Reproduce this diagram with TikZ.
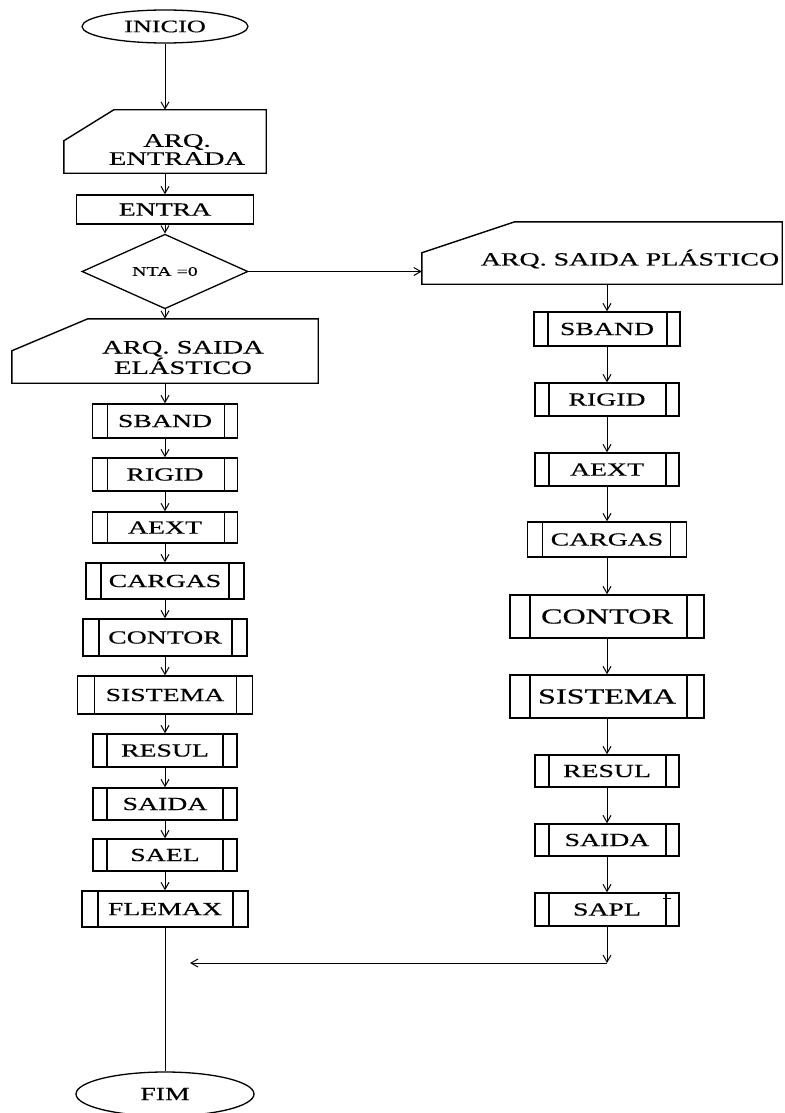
\documentclass[tikz,border=0pt]{standalone}
\usepackage{fontspec}
\setmainfont{Liberation Serif}[FakeStretch=1.5,FakeBold=0.4]
\usetikzlibrary{shapes.geometric,arrows.meta,calc}

\begin{document}
\begin{tikzpicture}[x=1pt,y=-1pt,
  base/.style={font=\fontsize{18.5}{18}\selectfont, inner sep=0pt, align=center},
  big/.style={font=\fontsize{21.5}{22}\selectfont},
  sz/.style 2 args={minimum width=#1, minimum height=#2},
  outline/.style={line width=1.4pt, line join=miter},
  box/.style={base, draw, outline, rectangle},
  proc/.style 2 args={box, path picture={
      \draw[line width=1.4pt] ([xshift=#1]path picture bounding box.north west) -- ([xshift=#1]path picture bounding box.south west);
      \draw[line width=1.4pt] ([xshift=-#2]path picture bounding box.north east) -- ([xshift=-#2]path picture bounding box.south east);}},
  term/.style={base, draw, ellipse, line width=1.3pt},
  link/.style={line width=0.9pt},
  arr/.style={link, -{Straight Barb[length=7pt,width=8pt,line width=1pt]}}
]
\fill[white] (0,0) rectangle (784,1113);
\useasboundingbox (0,0) rectangle (784,1113);

% start, input file and reading
\node[term, sz={166}{33}, font=\fontsize{17.5}{18}\selectfont] (ini) at (165,26.5) {INICIO};

\node[base, sz={202}{63}] (ent) at (165,141.5) {};
\draw[outline] ([yshift=-31]ent.north west) -- ([xshift=50]ent.north west) -- (ent.north east)
  -- (ent.south east) -- (ent.south west) -- cycle;
\node[base, font=\fontsize{19}{18}\selectfont] (ent-t) at ($(ent.center)+(12,8)$) {ARQ.\\ENTRADA};

\node[box, sz={177}{29}] (entra) at (165,209.5) {ENTRA};

\node[base, draw, diamond, line width=1.3pt, sz={166}{53},
      font=\fontsize{13.3}{14}\selectfont] (dec) at (165,271.5) {NTA =0};

% elastic branch
\node[base, sz={306}{64}] (ela) at (165,351) {};
\draw[outline] ([yshift=-32]ela.north west) -- ([xshift=76]ela.north west) -- (ela.north east)
  -- (ela.south east) -- (ela.south west) -- cycle;
\node[base, font=\fontsize{19}{19}\selectfont] (ela-t) at ($(ela.center)+(18,6.5)$) {ARQ. SAIDA\\ELÁSTICO};

\node[proc={15}{13}, sz={145}{34}] (lsb) at (165,421)   {SBAND};
\node[proc={15}{13}, sz={145}{33}] (lri) at (165,474.5) {RIGID};
\node[proc={15}{13}, sz={145}{31}] (lae) at (165,527.5) {AEXT};
\node[proc={15}{15}, sz={158}{36}] (lca) at (165,581)   {CARGAS};
\node[proc={16}{15}, sz={164}{37}] (lco) at (165,637.5) {CONTOR};
\node[proc={17}{16}, sz={175}{38}] (lsi) at (165,695)   {SISTEMA};
\node[proc={14}{14}, sz={144}{33}] (lre) at (165,750.5) {RESUL};
\node[proc={14}{14}, sz={144}{32}] (lsa) at (165,804)   {SAIDA};
\node[proc={14}{14}, sz={144}{32}] (lse) at (165,855)   {SAEL};
\node[proc={16}{15}, sz={166}{36}] (lfl) at (165,909)   {FLEMAX};

\node[term, sz={178}{44}] (fim) at (165,1094) {FIM};

% plastic branch
\node[base, sz={360}{62}] (pla) at (602,253) {};
\draw[outline] ([yshift=-31]pla.north west) -- ([xshift=93]pla.north west) -- (pla.north east)
  -- (pla.south east) -- (pla.south west) -- cycle;
\node[base, font=\fontsize{18.6}{19}\selectfont] (pla-t) at ($(pla.center)+(28,6)$) {ARQ. SAIDA PLÁSTICO};

\node[proc={14}{13}, sz={146}{34}] (rsb) at (607,329)   {SBAND};
\node[proc={14}{13}, sz={144}{33}] (rri) at (607,399.5) {RIGID};
\node[proc={14}{13}, sz={144}{33}] (rae) at (607,469.5) {AEXT};
\node[proc={15}{16}, sz={159}{35}] (rca) at (607,539.5) {CARGAS};
\node[proc={20}{17}, sz={194}{43}, big] (rco) at (607,616.5) {CONTOR};
\node[proc={20}{17}, sz={194}{43}, big] (rsi) at (607,696.5) {SISTEMA};
\node[proc={14}{13}, sz={144}{32}] (rre) at (607,771)   {RESUL};
\node[proc={14}{13}, sz={144}{32}] (rsa) at (607,840)   {SAIDA};
\node[proc={14}{13}, sz={144}{33}] (rsp) at (607,909.5) {SAPL};
\draw[line width=1pt] ([xshift=-17,yshift=-6]rsp.north east) -- ([xshift=-9,yshift=-6]rsp.north east);

\coordinate (j) at (607,963);
\coordinate (k) at (190,963);

% connectors
\draw[arr] (ini) -- (ent);
\draw[arr] (ent) -- (entra);
\draw[arr] (entra) -- (dec);
\draw[arr] (dec.east) -- (dec.east -| pla.west);
\draw[arr] (dec) -- (ela);
\draw[arr] (ela) -- (lsb);
\draw[arr] (lsb) -- (lri);
\draw[arr] (lri) -- (lae);
\draw[arr] (lae) -- (lca);
\draw[arr] (lca) -- (lco);
\draw[arr] (lco) -- (lsi);
\draw[arr] (lsi) -- (lre);
\draw[arr] (lre) -- (lsa);
\draw[arr] (lsa) -- (lse);
\draw[arr] (lse) -- (lfl);
\draw[link] (lfl) -- (fim);

\draw[arr] (rsb.north |- pla.south) -- (rsb.north);
\draw[arr] (rsb) -- (rri);
\draw[arr] (rri) -- (rae);
\draw[arr] (rae) -- (rca);
\draw[arr] (rca) -- (rco);
\draw[arr] (rco) -- (rsi);
\draw[arr] (rsi) -- (rre);
\draw[arr] (rre) -- (rsa);
\draw[arr] (rsa) -- (rsp);
\draw[arr] (rsp) -- (j);
\draw[arr] (j) -- (k);
\end{tikzpicture}
\end{document}
